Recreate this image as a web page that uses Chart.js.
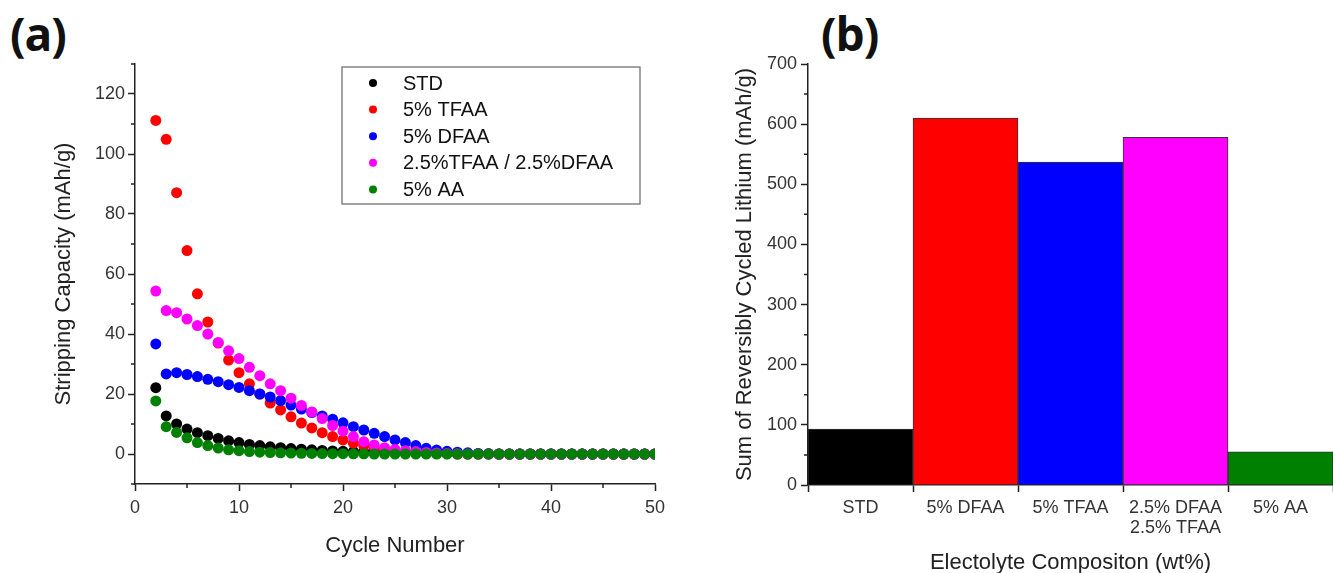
<!DOCTYPE html>
<html>
<head>
<meta charset="utf-8">
<script src="https://cdn.jsdelivr.net/npm/chart.js@4.4.0/dist/chart.umd.min.js"></script>
<style>
  html, body { margin: 0; padding: 0; background: #fff; }
  body { width: 1333px; height: 573px; position: relative; overflow: hidden; }
  .panel { position: absolute; top: 0; height: 573px; }
  #panelA { left: 0; width: 690px; }
  #panelB { left: 690px; width: 643px; }
  .tag { position: absolute; top: 10px; font-family: "Open Sans", "DejaVu Sans", sans-serif;
         font-weight: 700; font-size: 46px; line-height: 1; letter-spacing: -1px; color: #111; }
</style>
</head>
<body>
<div class="tag" style="left:10px">(a)</div>
<div class="tag" style="left:821px">(b)</div>
<div class="panel" id="panelA"><canvas id="capacity"></canvas></div>
<div class="panel" id="panelB"><canvas id="cycled"></canvas></div>
<script>
// (a) stripping capacity per cycle
const cycles = [2, 3, 4, 5, 6, 7, 8, 9, 10, 11, 12, 13, 14, 15, 16, 17, 18, 19, 20, 21, 22, 23, 24, 25, 26,
    27, 28, 29, 30, 31, 32, 33, 34, 35, 36, 37, 38, 39, 40, 41, 42, 43, 44, 45, 46, 47, 48, 49, 50];

const stdCap = [22.1, 12.7, 10.0, 8.3, 7.1, 6.1, 5.2, 4.4, 3.8, 3.2, 2.8, 2.4, 2.1, 1.8, 1.6, 1.4, 1.2, 1.0, 0.9,
    0.8, 0.7, 0.6, 0.5, 0.4, 0.35, 0.3, 0.25, 0.2, 0.15, 0.1, 0.1, 0.05, 0.05, 0, 0, 0, 0, 0, 0, 0, 0, 0, 0, 0, 0, 0, 0, 0, 0];
const tfaaCap = [111.2, 104.9, 87.1, 67.8, 53.4, 44.0, 37.0, 31.3, 27.1, 23.4, 20.0, 17.0, 14.7, 12.4, 10.3, 8.7,
    7.1, 5.8, 4.7, 3.6, 2.8, 2.1, 1.5, 1.1, 0.8, 0.5, 0.3, 0.2, 0.1, 0, 0, 0, 0, 0, 0, 0, 0, 0, 0, 0, 0, 0, 0, 0, 0, 0, 0, 0, 0];
const dfaaCap = [36.7, 26.7, 27.1, 26.5, 25.8, 24.9, 24.1, 23.1, 22.2, 21.1, 20.0, 19.0, 17.8, 16.3, 15.0, 13.8,
    12.7, 11.6, 10.4, 9.1, 8.0, 6.9, 5.8, 4.7, 3.8, 2.8, 1.9, 1.3, 0.9, 0.6, 0.4, 0.2, 0.1, 0, 0, 0, 0, 0, 0, 0, 0, 0, 0, 0, 0, 0, 0, 0, 0];
const mixCap = [54.3, 47.8, 47.1, 45.0, 42.8, 40.0, 37.2, 34.4, 31.8, 28.9, 26.1, 23.4, 21.1, 18.6, 16.2, 14.0,
    11.8, 9.5, 7.6, 5.8, 4.1, 3.0, 2.1, 1.5, 1.1, 0.8, 0.5, 0.3, 0.2, 0.1, 0, 0, 0, 0, 0, 0, 0, 0, 0, 0, 0, 0, 0, 0, 0, 0, 0, 0, 0];
const aaCap = [17.7, 9.1, 7.2, 5.4, 3.8, 2.8, 2.0, 1.4, 1.1, 0.8, 0.6, 0.5, 0.4, 0.3, 0.25, 0.2, 0.15, 0.1, 0.1,
    0.05, 0.05, 0, 0, 0, 0, 0, 0, 0, 0, 0, 0, 0, 0, 0, 0, 0, 0, 0, 0, 0, 0, 0, 0, 0, 0, 0, 0, 0, 0];

const seriesNames = ["STD", "5% TFAA", "5% DFAA", "2.5%TFAA / 2.5%DFAA", "5% AA"];
const seriesValues = [stdCap, tfaaCap, dfaaCap, mixCap, aaCap];
const capacityTicks = [0, 20, 40, 60, 80, 100, 120];

// (b) summed capacity per electrolyte
const compositions = ["STD", "5% DFAA", "5% TFAA", ["2.5% DFAA", "2.5% TFAA"], "5% AA"];
const cycledLithium = [93, 610, 537, 578, 55];

const colors = ["#000000", "#ff0000", "#0000ff", "#ff00ff", "#008000"];
const FONT = "'Liberation Sans', Arial, sans-serif";
const AXIS = "#222";

Chart.defaults.font.family = FONT;
Chart.defaults.animation = false;

// small unlabeled ticks between the labeled ones
const minorTicks = {
    id: "minorTicks",
    afterDraw(chart, args, opts) {
        const { ctx, chartArea, scales } = chart;
        ctx.save();
        ctx.strokeStyle = AXIS;
        ctx.lineWidth = 1.5;
        ctx.beginPath();
        (opts.x || []).forEach(v => {
            const px = scales.x.getPixelForValue(v);
            ctx.moveTo(px, chartArea.bottom);
            ctx.lineTo(px, chartArea.bottom + 4);
        });
        (opts.y || []).forEach(v => {
            const py = scales.y.getPixelForValue(v);
            ctx.moveTo(chartArea.left, py);
            ctx.lineTo(chartArea.left - 4, py);
        });
        ctx.stroke();
        ctx.restore();
    }
};

// legend box drawn inside the plot like the original
const boxLegend = {
    id: "boxLegend",
    afterDatasetsDraw(chart, args, o) {
        if (!o.show) return;
        const { ctx, chartArea } = chart;
        const x0 = chartArea.left + o.left, y0 = chartArea.top + o.top;
        ctx.save();
        ctx.fillStyle = "#fff";
        ctx.fillRect(x0, y0, o.width, o.height);
        ctx.strokeStyle = "#666";
        ctx.lineWidth = 1.2;
        ctx.strokeRect(x0, y0, o.width, o.height);
        ctx.font = "20px " + FONT;
        ctx.textBaseline = "middle";
        chart.data.datasets.forEach((ds, i) => {
            const cy = y0 + o.firstRow + i * o.rowGap;
            ctx.fillStyle = ds.backgroundColor;
            ctx.beginPath();
            ctx.arc(x0 + o.dotX, cy, 4, 0, Math.PI * 2);
            ctx.fill();
            ctx.fillStyle = "#111";
            ctx.fillText(ds.label, x0 + o.textX, cy + 1);
        });
        ctx.restore();
    }
};

function axisStyle() {
    return {
        border: { color: AXIS, width: 1.5 },
        grid: { drawOnChartArea: false, color: AXIS, tickLength: 7, tickWidth: 1.5 },
    };
}

new Chart(document.getElementById("capacity"), {
    type: "scatter",
    data: {
        datasets: seriesNames.map((name, s) => ({
            label: name,
            data: cycles.map((c, i) => ({ x: c, y: seriesValues[s][i] })),
            backgroundColor: colors[s],
            borderWidth: 0,
            pointRadius: 5.5,
            order: seriesNames.length - s,
        })),
    },
    options: {
        responsive: true,
        maintainAspectRatio: false,
        layout: { padding: { left: 0, right: 35, top: 64, bottom: 0 } },
        plugins: {
            legend: { display: false },
            tooltip: { enabled: false },
            minorTicks: { x: [5, 15, 25, 35, 45], y: [-10, 10, 30, 50, 70, 90, 110, 130] },
            boxLegend: { show: true, left: 207, top: 3, width: 298, height: 137, firstRow: 16, rowGap: 26.6, dotX: 31, textX: 61 },
        },
        scales: {
            x: {
                ...axisStyle(),
                min: 0, max: 50,
                ticks: { stepSize: 10, color: "#333", font: { size: 18 }, padding: 6, maxRotation: 0 },
                title: { display: true, text: "Cycle Number", color: AXIS, font: { size: 22 }, padding: { top: 0, bottom: 14 } },
                afterFit: s => { s.height = 89; },
            },
            y: {
                ...axisStyle(),
                min: -10, max: 130,
                afterBuildTicks: s => { s.ticks = capacityTicks.map(v => ({ value: v })); },
                ticks: { color: "#333", font: { size: 18 }, padding: 3 },
                title: { display: true, text: "Stripping Capacity (mAh/g)", color: AXIS, font: { size: 22 }, padding: { top: 51, bottom: 0 } },
                afterFit: s => { s.width = 135; },
            },
        },
    },
    plugins: [minorTicks, boxLegend],
});

new Chart(document.getElementById("cycled"), {
    type: "bar",
    data: {
        labels: compositions,
        datasets: [{
            label: "Sum of Reversibly Cycled Lithium",
            data: cycledLithium,
            backgroundColor: colors,
            borderColor: "#333",
            borderWidth: 1,
            barPercentage: 1,
            categoryPercentage: 1,
        }],
    },
    options: {
        responsive: true,
        maintainAspectRatio: false,
        layout: { padding: { left: 0, right: 0, top: 64, bottom: 0 } },
        plugins: {
            legend: { display: false },
            tooltip: { enabled: false },
            minorTicks: { y: [50, 150, 250, 350, 450, 550, 650] },
        },
        scales: {
            x: {
                ...axisStyle(),
                ticks: { color: "#333", font: { size: 18, lineHeight: 1.1 }, padding: 6, maxRotation: 0 },
                title: { display: true, text: "Electolyte Compositon (wt%)", color: AXIS, font: { size: 22, lineHeight: 0.9 }, padding: { top: 0, bottom: 0 } },
                afterFit: s => { s.height = 88; },
            },
            y: {
                ...axisStyle(),
                min: 0, max: 700,
                ticks: { stepSize: 100, color: "#333", font: { size: 18 }, padding: 4 },
                title: { display: true, text: "Sum of Reversibly Cycled Lithium (mAh/g)", color: AXIS, font: { size: 22 }, padding: { top: 42, bottom: 0 } },
                afterFit: s => { s.width = 118; },
            },
        },
    },
    plugins: [minorTicks],
});
</script>
</body>
</html>
